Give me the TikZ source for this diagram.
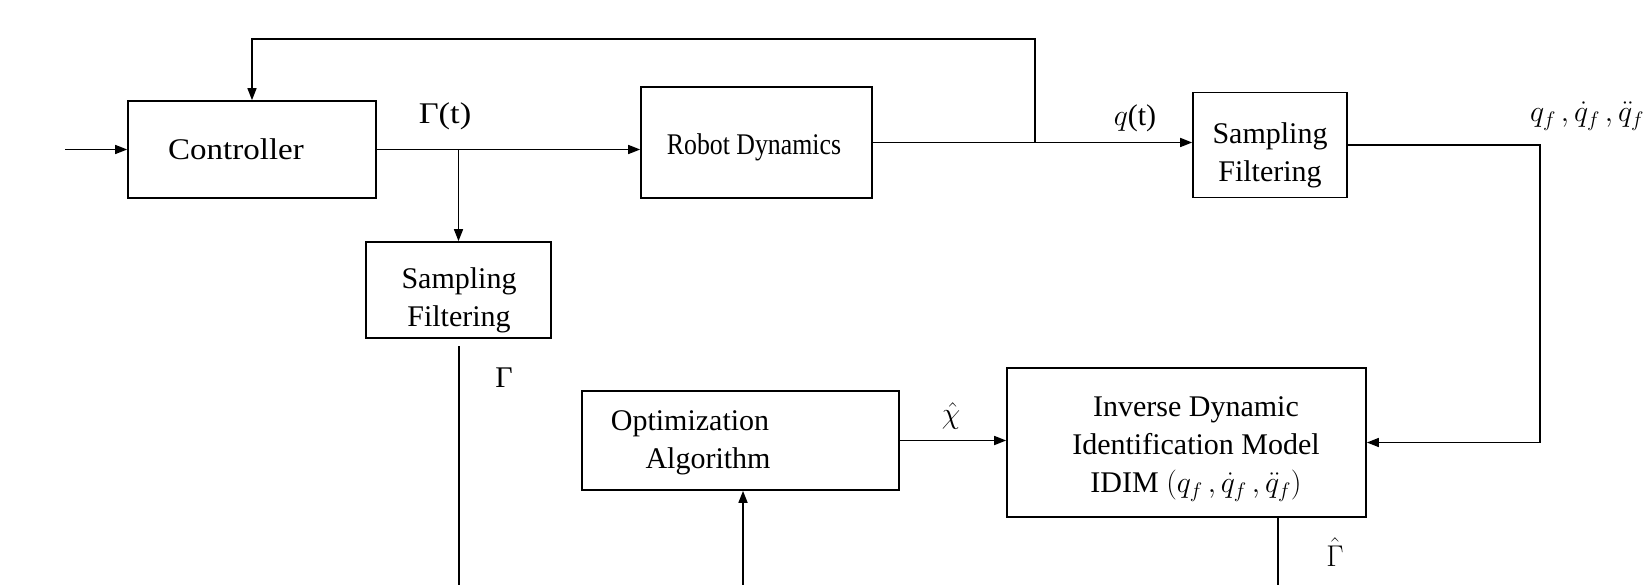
\RequirePackage{fix-cm}
\documentclass[tikz,border=0pt]{standalone}
\usepackage{fontspec}
\setmainfont{Liberation Serif}
\usetikzlibrary{arrows.meta}
\newcommand{\fsbox}{\fontsize{30}{38}\selectfont}
\tikzset{
  blk/.style={draw, line width=1.7pt, inner sep=0pt},
  txt/.style={align=center, inner sep=0pt, font=\fsbox},
  conn/.style={line width=1.6pt},
  arr/.style={conn, -{Triangle[length=12pt,width=9pt]}},
  lbl/.style={font=\fsbox, inner sep=0pt},
}
\begin{document}
\begin{tikzpicture}[x=1pt,y=-1pt]
\useasboundingbox (0,0) rectangle (1648,585);
% blocks
\node[blk, minimum width=248pt, minimum height=97pt] (ctrl) at (252,149.5) {};
\node[txt] (ctrltxt) at (236,149) {\scalebox{1.1}[1]{Controller}};
\node[blk, minimum width=231pt, minimum height=111pt] (robot) at (756.5,142.5) {};
\node[txt] (robottxt) at (754,147) {\scalebox{0.86}[1]{Robot Dynamics}};
\node[blk, minimum width=185pt, minimum height=96pt] (sf1) at (458.5,290) {};
\node[txt] (sf1txt) at (459,300) {Sampling\\Filtering};
\node[blk, minimum width=154pt, minimum height=105pt] (sf2) at (1270,145) {};
\node[txt] (sf2txt) at (1270,155) {Sampling\\Filtering};
\node[blk, minimum width=359pt, minimum height=149pt] (idim) at (1186.5,442.5) {};
\node[txt] (idimtxt) at (1196,449) {Inverse Dynamic\\Identification Model\\IDIM $(q_f\,,\dot q_f\,,\ddot q_f)$};
\node[blk, minimum width=317pt, minimum height=99pt] (opt) at (740.5,440.5) {};
\node[txt] (opttxt) at (690,443) {Optimization\\\hspace*{36pt}Algorithm};
% coordinates
\coordinate (in) at (65,149.5);
\coordinate (fb) at (1035,142.5);
\coordinate (fbtop) at (1035,39);
\coordinate (fbleft) at (252,39);
\coordinate (g0) at (459,346);
\coordinate (g1) at (459,585);
\coordinate (qc) at (1540,145);
\coordinate (ob) at (743,585);
\coordinate (ib) at (1278,585);
% connectors
\draw[arr] (in) -- (ctrl.west);
\draw[arr] (ctrl.east) -- (ctrl.east -| robot.west);
\draw[arr] (sf1.north |- ctrl.east) -- (sf1.north);
\draw[conn] (g0) -- (g1);
\draw[arr] (robot.east) -- (robot.east -| sf2.west);
\draw[arr] (fb) -- (fbtop) -- (fbleft) -- (ctrl.north);
\draw[arr] (sf2.east) -- (qc) |- (idim.east);
\draw[arr] (opt.east) -- (opt.east -| idim.west);
\draw[arr] (ob) -- (ob |- opt.south);
\draw[conn] (ib |- idim.south) -- (ib);
% labels
\node[lbl] (lG) at (445,116) {\scalebox{1.15}[1]{Γ(t)}};
\node[lbl] (lq) at (1135,118) {$q$(t)};
\node[lbl] (lqf) at (1587,116) {$q_f\,,\dot q_f\,,\ddot q_f$};
\node[lbl] (lGam) at (504,378) {Γ};
\node[lbl] (lchi) at (951,416) {$\hat{\chi}$};
\node[lbl] (lGh) at (1335,552) {$\hat{\Gamma}$};
\end{tikzpicture}
\end{document}
